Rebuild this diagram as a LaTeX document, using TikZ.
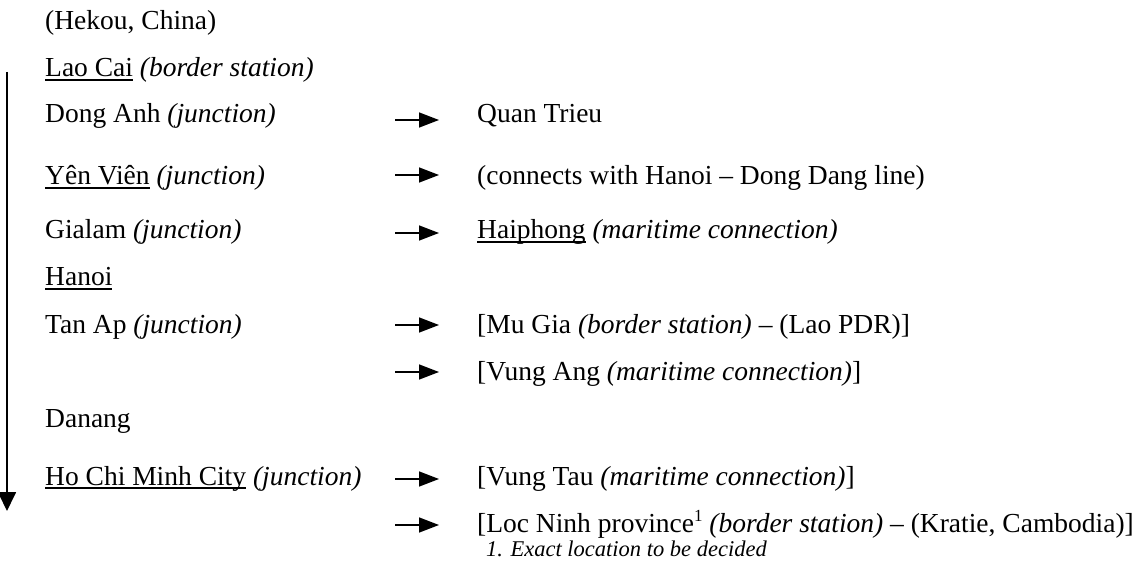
\documentclass[tikz,border=0pt]{standalone}
\usepackage{fontspec}
\setmainfont{Liberation Serif}
\usetikzlibrary{arrows.meta}

\newcommand{\ulin}[1]{\setbox0\hbox{#1}\rlap{\rule[-4pt]{\wd0}{1.9pt}}\box0\relax}
\newcommand{\kind}[1]{\textit{(#1)}}
\newcommand{\fnmark}[1]{\raisebox{10.5pt}{\fontsize{17}{17}\selectfont #1}}

\tikzset{
  stn/.style={anchor=base west, inner sep=0pt, font=\fontsize{27.5}{33}\selectfont},
  note/.style={anchor=base west, inner sep=0pt, font=\fontsize{22.5}{27}\selectfont\itshape},
  feed/.style={line width=1.5pt, shorten >=38pt, -{Triangle[length=20pt,width=15pt]}},
  trunk/.style={line width=1.8pt, -{Triangle[length=19pt,width=18pt]}}
}

\begin{document}
\begin{tikzpicture}[x=1pt, y=-1pt]
  \useasboundingbox (0,0) rectangle (1141,561);

  % Main line
  \node[stn] (hekou) at (45,30) {(Hekou, China)};
  \node[stn] (laocai) at (45,77) {\ulin{Lao Cai} \kind{border station}};
  \node[stn] (donganh) at (45,123) {Dong Anh \kind{junction}};
  \node[stn] (yenvien) at (45,185) {\ulin{Yên Viên} \kind{junction}};
  \node[stn] (gialam) at (45,239) {Gialam \kind{junction}};
  \node[stn] (hanoi) at (45,286) {\ulin{Hanoi}};
  \node[stn] (tanap) at (45,334) {Tan Ap \kind{junction}};
  \node[stn] (danang) at (45,428) {Danang};
  \node[stn] (hcmc) at (45,485) {\ulin{Ho Chi Minh City} \kind{junction}};

  % Branches
  \node[stn] (quan) at (477,123) {Quan Trieu};
  \node[stn] (dongdang) at (477,185) {(connects with Hanoi – Dong Dang line)};
  \node[stn] (haiphong) at (477,239) {\ulin{Haiphong} \kind{maritime connection}};
  \node[stn] (mugia) at (477,334) {[Mu Gia \kind{border station} – (Lao PDR)]};
  \node[stn] (vungang) at (477,381) {[Vung Ang \kind{maritime connection}]};
  \node[stn] (vungtau) at (477,485) {[Vung Tau \kind{maritime connection}]};
  \node[stn] (locninh) at (477,532) {[Loc Ninh province\fnmark{1} \kind{border station} – (Kratie, Cambodia)]};
  \node[note] (fn) at (486,556) {1. Exact location to be decided};

  % Arrow ends
  \coordinate (top) at (7,72);
  \coordinate (bot) at (7,511);
  \coordinate (a1) at (395,120);
  \coordinate (a2) at (395,175);
  \coordinate (a3) at (395,233);
  \coordinate (a4) at (395,325);
  \coordinate (a5) at (395,372);
  \coordinate (a6) at (395,479);
  \coordinate (a7) at (395,525);

  % Edges
  \draw[trunk] (top) -- (bot);
  \draw[feed] (a1) -- (a1 -| quan.west);
  \draw[feed] (a2) -- (a2 -| dongdang.west);
  \draw[feed] (a3) -- (a3 -| haiphong.west);
  \draw[feed] (a4) -- (a4 -| mugia.west);
  \draw[feed] (a5) -- (a5 -| vungang.west);
  \draw[feed] (a6) -- (a6 -| vungtau.west);
  \draw[feed] (a7) -- (a7 -| locninh.west);
\end{tikzpicture}
\end{document}
